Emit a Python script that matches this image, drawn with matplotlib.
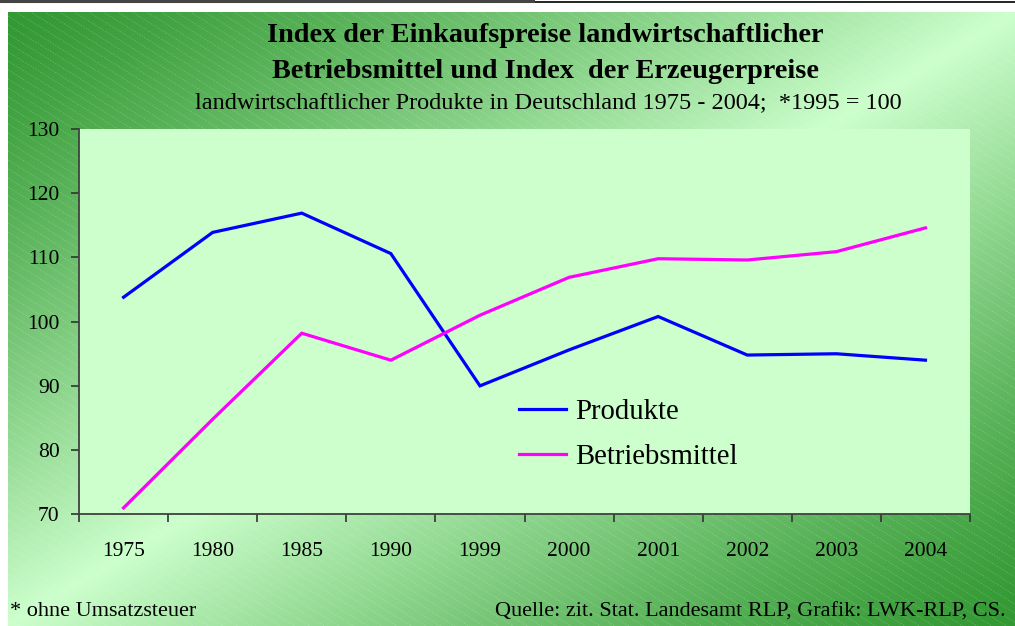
import numpy as np
import matplotlib
matplotlib.use("Agg")
import matplotlib.pyplot as plt

# ---- data ----
years = ["1975", "1980", "1985", "1990", "1999", "2000", "2001", "2002", "2003", "2004"]
produkte = [103.8, 113.9, 116.9, 110.6, 90.0, 95.6, 100.8, 94.8, 95.0, 94.0]
betriebsmittel = [71.0, 84.8, 98.2, 94.0, 101.0, 106.9, 109.8, 109.6, 110.9, 114.6]
yticks = [70, 80, 90, 100, 110, 120, 130]
series_labels = ["Produkte", "Betriebsmittel"]

W, H = 1015, 626
fig = plt.figure(figsize=(W / 100, H / 100), dpi=100)
plt.rcParams['font.family'] = ['Liberation Serif', 'DejaVu Serif']

# ---- background (gradient + stripes) ----
bg = fig.add_axes([0, 0, 1, 1])
bg.set_xlim(0, W)
bg.set_ylim(H, 0)
bg.axis('off')
x0, y0 = 8, 12
gx = np.linspace(0, 1, 400)
gy = np.linspace(0, 1, 300)
GX, GY = np.meshgrid(gx, gy)
u = GX + GY
t = np.clip(1 - np.abs(u - 1), 0, 1) ** 1.3
dark = np.array([0x33, 0x99, 0x33]) / 255
light = np.array([0xcc, 0xff, 0xcc]) / 255
img = dark[None, None, :] + (light - dark)[None, None, :] * t[:, :, None]
bg.imshow(img, extent=[x0, W, H, y0], aspect='auto', interpolation='bilinear', zorder=0)
# diagonal stripes
clip_rect = plt.Rectangle((x0, y0), W - x0, H - y0, transform=bg.transData, fill=False, lw=0)
bg.add_patch(clip_rect)
slope = 0.62
for c in np.arange(-W, H + 10, 9):
    xs = np.array([x0, W])
    ys = c + slope * xs
    ln, = bg.plot(xs, ys, color='white', lw=0.7, alpha=0.2, ls=(0, (1.5, 1.5)), zorder=1)
    ln.set_clip_path(clip_rect)
# top frame lines
bg.plot([0, W], [1.5, 1.5], color='black', lw=1.2, zorder=2)
bg.plot([0, 533], [1.0, 1.0], color='#444444', lw=2.2, zorder=3)

# ---- main axes ----
L, R, T, B = 79, 970, 129, 514.3
ax = fig.add_axes([L / W, (H - B) / H, (R - L) / W, (B - T) / H])
ax.set_facecolor('#ccffcc')
x = np.arange(len(years))
ax.plot(x, produkte, color='#0000ff', lw=2.3, label=series_labels[0], solid_joinstyle='miter')
ax.plot(x, betriebsmittel, color='#ff00ff', lw=2.3, label=series_labels[1], solid_joinstyle='miter')
ax.set_xlim(-0.5, len(years) - 0.5)
ax.set_ylim(70, 130)
ax.set_yticks(yticks)
ax.set_yticklabels([str(v) for v in yticks])
ax.set_xticks(x)
ax.set_xticklabels(years)
ax.set_xticks(np.arange(-0.5, len(years), 1.0), minor=True)
ax.tick_params(axis='x', which='major', length=0, pad=20, labelsize=15.5)
ax.tick_params(axis='x', which='minor', length=6, width=1.2, color='#333333', direction='out')
ax.tick_params(axis='y', which='major', length=6, width=1.2, color='#333333', direction='out', pad=8, labelsize=15.5)
for s in ['top', 'right']:
    ax.spines[s].set_visible(False)
for s in ['left', 'bottom']:
    ax.spines[s].set_color('#404040')
    ax.spines[s].set_linewidth(1.3)

leg = ax.legend(loc='upper left', bbox_to_anchor=(519 / W, 1 - 399 / H), bbox_transform=fig.transFigure,
                frameon=False, fontsize=20.7, handlelength=1.65, handletextpad=0.3, labelspacing=0.66,
                borderpad=0, borderaxespad=0)

# ---- titles ----
fig.text(545 / W, 1 - 35 / H, "Index der Einkaufspreise landwirtschaftlicher", ha='center', va='center',
         fontsize=20.3, fontweight='bold')
fig.text(545 / W, 1 - 72 / H, "Betriebsmittel und Index  der Erzeugerpreise", ha='center', va='center',
         fontsize=20.3, fontweight='bold')
fig.text(548 / W, 1 - 103 / H, "landwirtschaftlicher Produkte in Deutschland 1975 - 2004;  *1995 = 100",
         ha='center', va='center', fontsize=17.5)
fig.text(10 / W, 1 - 612 / H, "* ohne Umsatzsteuer", ha='left', va='center', fontsize=16)
fig.text(1006 / W, 1 - 612 / H, "Quelle: zit. Stat. Landesamt RLP, Grafik: LWK-RLP, CS.", ha='right',
         va='center', fontsize=16)

fig.savefig("out.png", dpi=100)
